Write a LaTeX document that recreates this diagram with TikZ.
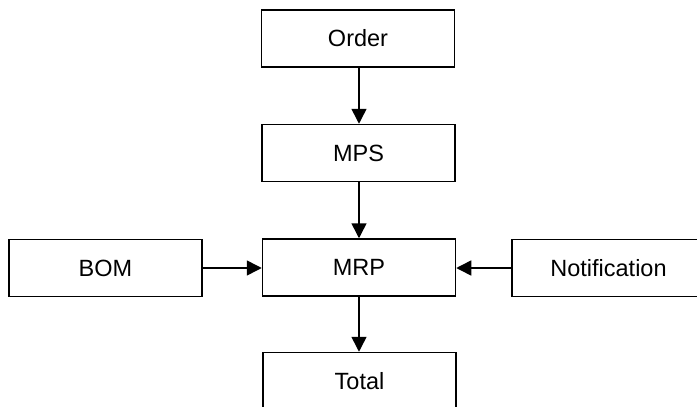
\documentclass[tikz,border=0pt]{standalone}
\usepackage{fontspec}
\setmainfont{Liberation Sans}
\usetikzlibrary{arrows.meta}
\begin{document}
\begin{tikzpicture}[x=1pt,y=-1pt,
  box/.style={draw=black,line width=1.5pt,minimum width=193pt,minimum height=57pt,inner sep=0pt,font=\fontsize{23.5}{28}\selectfont,fill=white},
  arr/.style={line width=1.5pt,-{Triangle[length=15pt,width=15pt]}}]
\useasboundingbox (0,0) rectangle (697,407);
\clip (0,0) rectangle (697,407);
\fill[white] (0,0) rectangle (697,407);
\node[box] (order) at (358,38.5) {Order};
\node[box] (mps) at (358.5,153) {MPS};
\node[box] (mrp) at (359,267.5) {MRP};
\node[box] (bom) at (105.5,268) {BOM};
\node[box] (notif) at (608.5,268) {Notification};
\node[box] (total) at (359.5,381) {Total};
\draw[arr] (order.south -| 359,0) -- (mps.north -| 359,0);
\draw[arr] (mps.south -| 359,0) -- (mrp.north -| 359,0);
\draw[arr] (mrp.south -| 359,0) -- (total.north -| 359,0);
\draw[arr] (bom.east) -- (mrp.west |- bom.east);
\draw[arr] (notif.west) -- (mrp.east |- notif.west);
\end{tikzpicture}
\end{document}
